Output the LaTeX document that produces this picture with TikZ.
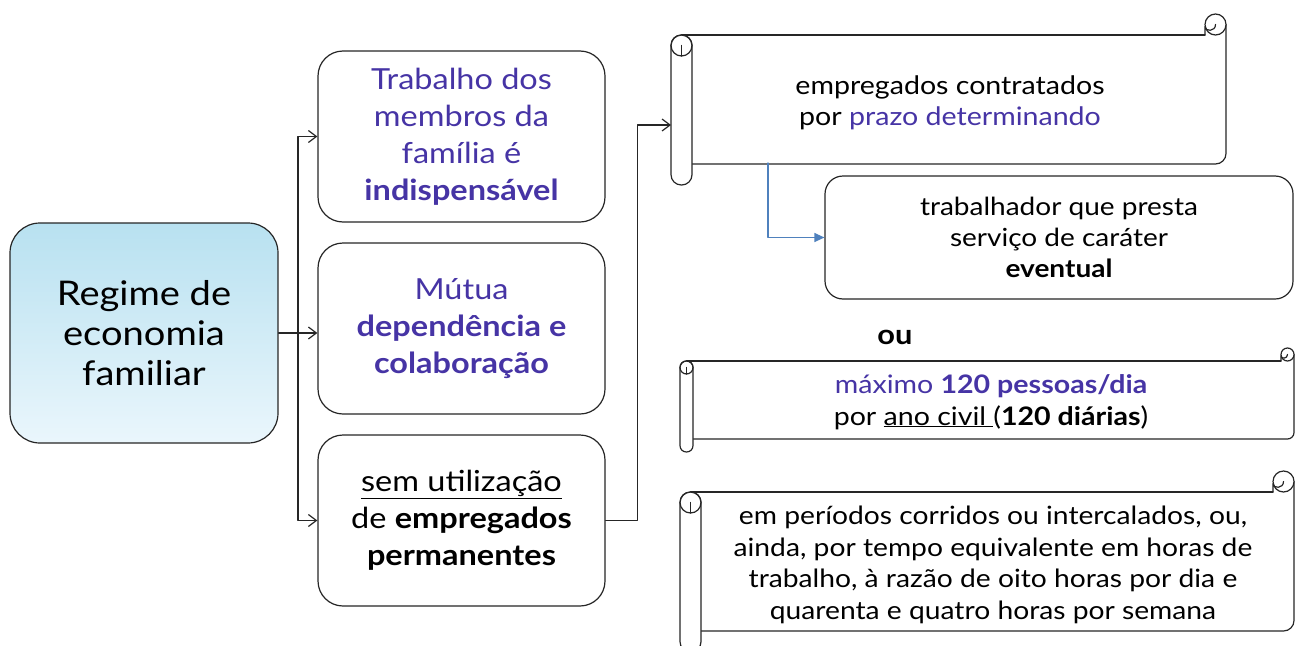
\documentclass[tikz,border=0pt]{standalone}
\usepackage{fontspec}
\setmainfont{Lato}[FakeStretch=1.12]
\usetikzlibrary{arrows.meta}
\definecolor{roxo}{RGB}{70,52,165}
\definecolor{seta}{RGB}{79,129,189}
\definecolor{azultopo}{RGB}{184,225,240}
\definecolor{azulbase}{RGB}{234,246,252}
\tikzset{
  caixa/.style={draw=black!85, fill=white, rounded corners=25pt, minimum width=287pt, minimum height=171pt, align=center, font=\fontsize{29}{37}\selectfont},
  caixaazul/.style={draw=black!85, top color=azultopo, bottom color=azulbase, rounded corners=30pt, minimum width=268pt, minimum height=220pt, align=center, font=\fontsize{34}{40}\selectfont},
  texto/.style={align=center, font=\fontsize{25.5}{31.5}\selectfont},
}
% rolo: L, T, R, B, ch
\newcommand{\rolo}[5]{%
  \fill[white] ({#1+#5/2},{#2+#5}) rectangle (#3,{#4-#5});
  \draw[draw=black!85] ({#1+#5/2},{#2+#5}) -- ({#3-#5},{#2+#5});
  \draw[draw=black!85, rounded corners={#5*0.5pt}] (#3,{#2+#5/2}) -- (#3,{#4-#5}) -- ({#1+#5},{#4-#5});
  \draw[draw=black!85, fill=white, rounded corners={#5*0.49pt}] (#1,{#2+#5}) rectangle ({#1+#5},#4);
  \draw[draw=black!85] ({#1+#5/2},{#2+1.5*#5}) circle[radius=#5/2];
  \draw[draw=black!85] ({#1+#5/2},{#2+1.5*#5}) -- ({#1+#5/2},{#2+2*#5});
  \draw[draw=black!85, fill=white] ({#3-#5/2},{#2+#5/2}) circle[radius=#5/2];
  \draw[draw=black!85] ({#3-#5},{#2+#5}) -- ({#3-#5},{#2+0.6*#5}) .. controls ({#3-#5},{#2+0.85*#5}) and ({#3-#5/2},{#2+0.85*#5}) .. ({#3-#5/2},{#2+#5/2});
}
\begin{document}
\begin{tikzpicture}[x=1pt, y=-1pt, line width=1.2pt, line join=round, line cap=round, >={Straight Barb[length=8pt,width=12pt]}]
  \useasboundingbox (0,0) rectangle (1300,645);
  \clip (0,0) rectangle (1300,645);
  % left column
  \node[caixaazul] (regime) at (144,333) {Regime de\\economia\\familiar};
  % middle column
  \node[caixa, text=roxo] (trabalho) at (461.5,136.5) {Trabalho dos\\membros da\\família é\\\textbf{indispensável}};
  \node[caixa, text=roxo] (mutua) at (461.5,328.5) {Mútua\\\textbf{dependência e}\\\textbf{colaboração}};
  \node[caixa] (semempregados) at (461.5,520.5) {\underline{sem utilização}\\de \textbf{empregados}\\\textbf{permanentes}};
  % scrolls
  \rolo{671}{14}{1226}{185}{21}
  \rolo{680}{348}{1294}{452}{13}
  \rolo{680}{471}{1294}{652}{21}
  \coordinate (entrada) at (671,125);
  \coordinate (saida) at (768,163);
  \node[texto] (prazo) at (950,103) {empregados contratados\\por \textcolor{roxo}{prazo determinando}};
  \node[texto] (maximo) at (991,402) {\textcolor{roxo}{máximo \textbf{120 pessoas/dia}}\\por \underline{ano civil\ }(\textbf{120 diárias})};
  \node[texto, font=\fontsize{25.2}{31.7}\selectfont] (periodos) at (993,565) {em períodos corridos ou intercalados, ou,\\ainda, por tempo equivalente em horas de\\trabalho, à razão de oito horas por dia e\\quarenta e quatro horas por semana};
  \node[caixa, rounded corners=18pt, minimum width=468pt, minimum height=123pt, font=\fontsize{25}{31}\selectfont] (eventual) at (1059,237.5) {trabalhador que presta\\serviço de caráter\\\textbf{eventual}};
  \node[font=\fontsize{27.5}{31}\selectfont\bfseries] (ou) at (895,337) {ou};
  % connectors
  \coordinate (ramo) at (298,333);
  \draw[black!85] (regime.east) -- (ramo);
  \draw[black!85, ->] (ramo) |- (trabalho.west);
  \draw[black!85, ->] (ramo) -- (mutua.west |- ramo);
  \draw[black!85, ->] (ramo) |- (semempregados.west);
  \draw[black!85, ->] (semempregados.east) -- ++(32,0) |- (entrada);
  \draw[seta, -{Triangle[length=10pt,width=9pt]}] (saida) |- (eventual.west);
\end{tikzpicture}
\end{document}
